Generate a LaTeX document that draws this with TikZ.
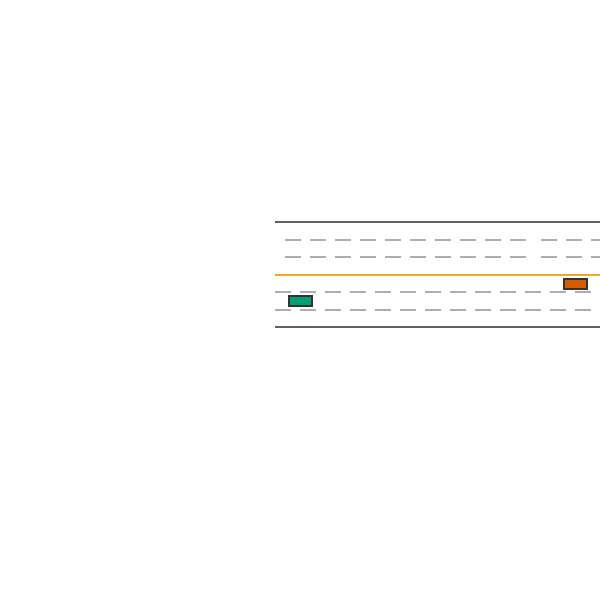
\documentclass[tikz,border=0pt]{standalone}
\usetikzlibrary{calc}
\definecolor{edgegray}{HTML}{5F5F5F}
\definecolor{lanegray}{HTML}{AEAEAE}
\definecolor{centerorange}{HTML}{F5A623}
\definecolor{cargreen}{HTML}{009E73}
\definecolor{carorange}{HTML}{D55E00}
\definecolor{carborder}{HTML}{333333}
\tikzset{
  roadedge/.style={draw=edgegray, line width=2pt},
  centerline/.style={draw=centerorange, line width=2pt},
  laneline/.style={draw=lanegray, line width=1.7pt},
  car/.style={draw=carborder, line width=2pt, minimum width=23pt, minimum height=10pt, inner sep=0pt, rectangle}
}
\begin{document}
\begin{tikzpicture}[x=1pt,y=-1pt]
\useasboundingbox (0,0) rectangle (600,600);
\fill[white] (0,0) rectangle (600,600);
% road edges
\coordinate (tl) at (275,222); \coordinate (tr) at (600,222);
\coordinate (bl) at (275,327); \coordinate (br) at (600,327);
\coordinate (cl) at (275,275); \coordinate (cr) at (600,275);
\draw[roadedge] (tl) -- (tr);
\draw[roadedge] (bl) -- (br);
\draw[centerline] (cl) -- (cr);
% upper lane dashes
\foreach \y in {240,257}{
  \foreach \x in {285,310,...,510}{
    \draw[laneline] (\x,\y) -- ++(16,0);
  }
  \foreach \x in {541,566,591}{
    \draw[laneline] (\x,\y) -- ++(16,0);
  }
}
% lower lane dashes
\foreach \y in {292,310}{
  \foreach \x in {275,300,...,575}{
    \draw[laneline] (\x,\y) -- ++(16,0);
  }
}
% cars
\node[car, fill=cargreen] (greencar) at (300.5,300.5) {};
\node[car, fill=carorange] (orangecar) at (575.5,283.5) {};
\end{tikzpicture}
\end{document}
